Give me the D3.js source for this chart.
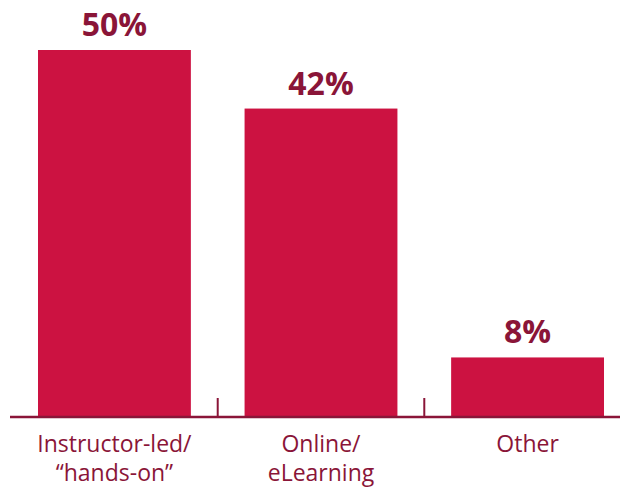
<!DOCTYPE html>
<html>
<head>
<meta charset="utf-8">
<script src="https://cdn.jsdelivr.net/npm/d3@7"></script>
<style>
  html, body { margin: 0; padding: 0; background: #fff; }
  svg { display: block; }
</style>
</head>
<body>
<svg id="chart" width="620" height="488"></svg>
<script>
// Preferred training formats (share of respondents)
const categories = ["Instructor-led/\n\u201chands-on\u201d", "Online/\neLearning", "Other"];
const values = [50, 42, 8];
const valueLabels = ["50%", "42%", "8%"];

const barColor = "#cc1241";
const textColor = "#8a1538";
const fontFamily = "'Open Sans', 'Noto Sans', sans-serif";

const svg = d3.select("#chart");
const baseline = 416;

const x = d3.scaleBand()
  .domain(d3.range(categories.length))
  .range([38, 604])
  .paddingInner(0.26)
  .paddingOuter(0);

const y = d3.scaleLinear()
  .domain([0, 50])
  .range([baseline, 50]);

// Bars
svg.append("g")
  .selectAll("rect")
  .data(values)
  .join("rect")
  .attr("x", (d, i) => x(i))
  .attr("y", d => y(d))
  .attr("width", x.bandwidth())
  .attr("height", d => baseline - y(d))
  .attr("fill", barColor);

// Value labels above bars
svg.append("g")
  .selectAll("text")
  .data(values)
  .join("text")
  .attr("x", (d, i) => x(i) + x.bandwidth() / 2)
  .attr("y", d => y(d) - 14)
  .attr("text-anchor", "middle")
  .attr("font-family", fontFamily)
  .attr("font-weight", 700)
  .attr("font-size", 32)
  .attr("fill", textColor)
  .text((d, i) => valueLabels[i]);

// Baseline
svg.append("line")
  .attr("x1", 10).attr("x2", 620)
  .attr("y1", baseline + 1).attr("y2", baseline + 1)
  .attr("stroke", textColor)
  .attr("stroke-width", 2.5);

// Divider ticks between categories
const dividers = d3.range(1, categories.length).map(i => x(i) - x.step() * x.paddingInner() / 2);
svg.append("g")
  .selectAll("line")
  .data(dividers)
  .join("line")
  .attr("x1", d => d).attr("x2", d => d)
  .attr("y1", baseline - 18).attr("y2", baseline)
  .attr("stroke", textColor)
  .attr("stroke-width", 2);

// Category labels (two lines where needed)
const labels = svg.append("g")
  .selectAll("text")
  .data(categories)
  .join("text")
  .attr("x", (d, i) => x(i) + x.bandwidth() / 2)
  .attr("y", 452)
  .attr("text-anchor", "middle")
  .attr("font-family", fontFamily)
  .attr("font-size", 23)
  .attr("fill", textColor);

labels.selectAll("tspan")
  .data(d => d.split("\n"))
  .join("tspan")
  .attr("x", function () { return d3.select(this.parentNode).attr("x"); })
  .attr("dy", (d, i) => i === 0 ? 0 : 29)
  .text(d => d);
</script>
</body>
</html>
